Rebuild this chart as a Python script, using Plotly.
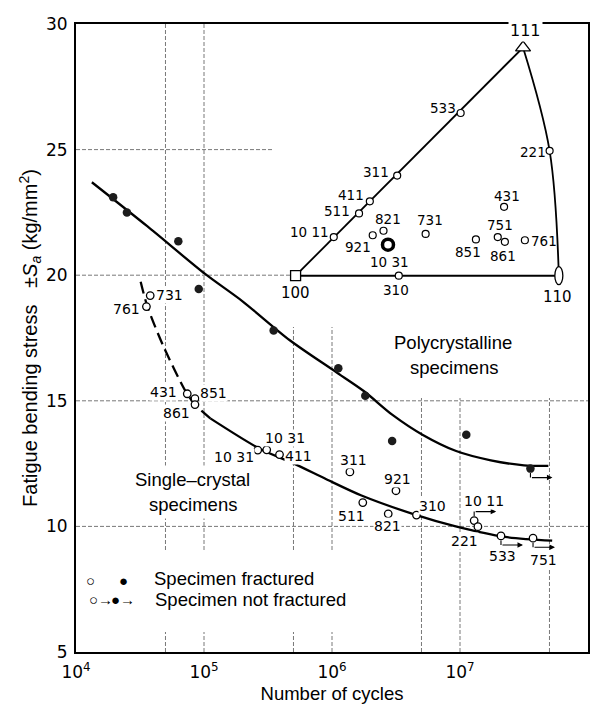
import numpy as np
import plotly.graph_objects as go

# ---------------- data ----------------
# Polycrystalline specimens (filled dots)
poly_cycles = [1.95e4, 2.5e4, 6.3e4, 9.1e4, 3.5e5, 1.12e6, 1.82e6, 2.95e6, 1.12e7, 3.55e7]
poly_stress = [23.1, 22.5, 21.35, 19.45, 17.8, 16.3, 15.2, 13.4, 13.65, 12.3]
poly_fractured = [True, True, True, True, True, True, True, True, True, False]

# Polycrystalline fitted curve
poly_curve_cycles = [1.33e4, 3.6e4, 1.02e5, 2.0e5, 4.68e5, 1.05e6, 1.78e6, 2.95e6,
                     5.13e6, 9.33e6, 1.74e7, 3.16e7, 4.9e7]
poly_curve_stress = [23.7, 21.95, 20.05, 18.96, 17.41, 16.18, 15.38, 14.45,
                     13.64, 13.0, 12.63, 12.43, 12.41]

# Single-crystal specimens (open circles), labelled by orientation
single_labels = ["761", "731", "431", "851", "861", "10 31", "10 31", "411", "311",
                 "511", "921", "821", "310", "10 11", "221", "533", "751"]
single_cycles = [3.55e4, 3.8e4, 7.4e4, 8.5e4, 8.5e4, 2.63e5, 3.09e5, 3.89e5, 1.38e6,
                 1.74e6, 3.16e6, 2.75e6, 4.57e6, 1.29e7, 1.38e7, 2.09e7, 3.72e7]
single_stress = [18.75, 19.19, 15.28, 15.09, 14.85, 13.04, 13.05, 12.86, 12.17,
                 10.95, 11.42, 10.5, 10.45, 10.23, 9.99, 9.62, 9.53]
single_fractured = [True, True, True, True, True, True, True, True, True,
                    True, True, True, True, False, True, False, False]

# Single-crystal fitted curve (dashed part, then solid part)
single_dash_cycles = [3.2e4, 3.6e4, 4.83e4, 7.29e4, 8.51e4, 1.12e5]
single_dash_stress = [19.74, 18.78, 17.16, 15.32, 14.85, 14.3]
single_solid_cycles = [1.12e5, 2.75e5, 5.0e5, 9.1e5, 1.7e6, 4.57e6, 9.1e6, 2.24e7, 5.25e7]
single_solid_stress = [14.3, 13.08, 12.51, 11.87, 11.23, 10.45, 10.01, 9.58, 9.43]

# Inset: standard stereographic triangle (coordinates relative to 100-110 edge = 1)
vertex_labels = ["100", "110", "111"]
vertex_u = [0.0, 1.0, 0.864]
vertex_v = [0.0, 0.0, 0.868]
inset_labels = ["10 11", "511", "411", "311", "533", "221", "310", "821", "921",
                "10 31", "731", "851", "751", "861", "431", "761"]
inset_u = [0.145, 0.241, 0.282, 0.386, 0.627, 0.965, 0.392, 0.334, 0.293,
           0.351, 0.494, 0.685, 0.768, 0.795, 0.792, 0.871]
inset_v = [0.147, 0.237, 0.283, 0.381, 0.619, 0.475, 0.0, 0.171, 0.154,
           0.118, 0.159, 0.138, 0.147, 0.129, 0.262, 0.135]
inset_highlight = "10 31"
arc_through = "221"

x_tick_values = [1e4, 5e4, 1e5, 5e5, 1e6, 5e6, 1e7, 5e7, 1e8]
x_tick_text = ["10<sup>4</sup>", "", "10<sup>5</sup>", "", "10<sup>6</sup>", "",
               "10<sup>7</sup>", "", "10<sup>8</sup>"]
y_tick_values = [5, 10, 15, 20, 25, 30]

# ---------------- styles / label placement (pixels) ----------------
FONT = "Liberation Sans"
NUMFONT = "DejaVu Sans"
single_label_offsets = [(-20, 2), (19, -1), (-24, -2), (19, -6), (-18, 8), (-24, 7),
                        (18, -12), (19, 1), (4, -12), (-11, 13), (2, -12), (-1, 12),
                        (16, -9), (10, -20), (-13, 14), (2, 20), (10, 22)]
inset_label_offsets = [(-24, -5), (-22, -2), (-19, -6), (-21, -4), (-18, -5), (-17, 1),
                       (-3, 14), (4, -12), (-15, 12), (2, 17), (4, -14), (-8, 13),
                       (2, -12), (-2, 14), (3, -11), (19, 1)]
vertex_label_offsets = [(0, 17), (-1, 21), (2, -17)]
arrow_dir_poly = 1
arrow_dir_single = {"10 11": -1, "533": 1, "751": 1}

# plot frame in pixels
L, R, T, B = 76, 12, 24, 55
W, H = 600, 707
PW, PH = W - L - R, H - T - B


def dom_x(px):
    return (px - L) / PW


def dom_y(py):
    return (H - B - py) / PH


fig = go.Figure()

# ---- curves ----
fig.add_trace(go.Scatter(x=poly_curve_cycles, y=poly_curve_stress, mode="lines",
                         line=dict(color="black", width=2.3, shape="spline", smoothing=0.8),
                         hoverinfo="skip", showlegend=False))
fig.add_trace(go.Scatter(x=single_dash_cycles, y=single_dash_stress, mode="lines",
                         line=dict(color="black", width=2.3, dash="12px,6px",
                                   shape="spline", smoothing=0.8),
                         hoverinfo="skip", showlegend=False))
fig.add_trace(go.Scatter(x=single_solid_cycles, y=single_solid_stress, mode="lines",
                         line=dict(color="black", width=2.3, shape="spline", smoothing=0.8),
                         hoverinfo="skip", showlegend=False))

# ---- markers ----
fig.add_trace(go.Scatter(x=poly_cycles, y=poly_stress, mode="markers",
                         marker=dict(symbol="circle", size=8.5, color="#1c1c1c",
                                     line=dict(width=0)),
                         showlegend=False))
fig.add_trace(go.Scatter(x=single_cycles, y=single_stress, mode="markers",
                         marker=dict(symbol="circle", size=7.5, color="white",
                                     line=dict(color="black", width=1.3)),
                         showlegend=False))

annotations = []


def not_fractured_arrow(xv, yv, direction):
    lx = float(np.log10(xv))
    annotations.append(dict(x=lx, y=yv, xref="x", yref="y", text="", showarrow=True,
                            arrowhead=0, arrowwidth=1.1, arrowcolor="black",
                            ax=0, ay=-6 * direction, xshift=0, yshift=-9 * direction,
                            standoff=0, startstandoff=0))
    annotations.append(dict(x=lx, y=yv, xref="x", yref="y", text="", showarrow=True,
                            arrowhead=2, arrowsize=1.0, arrowwidth=1.1, arrowcolor="black",
                            ax=-22, ay=0, xshift=22, yshift=-9 * direction,
                            standoff=0, startstandoff=0))


for xv, yv, fr in zip(poly_cycles, poly_stress, poly_fractured):
    if not fr:
        not_fractured_arrow(xv, yv, arrow_dir_poly)
for lab, xv, yv, fr in zip(single_labels, single_cycles, single_stress, single_fractured):
    if not fr:
        not_fractured_arrow(xv, yv, arrow_dir_single.get(lab, 1))

for lab, xv, yv, (dx, dy) in zip(single_labels, single_cycles, single_stress,
                                 single_label_offsets):
    annotations.append(dict(x=float(np.log10(xv)), y=yv, xref="x", yref="y", text=lab,
                            showarrow=False, xshift=dx, yshift=-dy, xanchor="center",
                            yanchor="middle", bgcolor="white", borderpad=0,
                            font=dict(family=NUMFONT, size=14, color="black")))

curve_texts = [("Polycrystalline", 6.948, 17.34), ("specimens", 6.953, 16.31),
               ("Single\u2013crystal", 4.912, 11.86), ("specimens", 4.916, 10.86)]
for txt, lx, ly in curve_texts:
    annotations.append(dict(x=lx, y=ly, xref="x", yref="y", text=txt, showarrow=False,
                            xanchor="center", yanchor="middle", bgcolor="white",
                            borderpad=3, font=dict(family=FONT, size=18.5, color="black")))

legend_items = [("\u25cb", 4.111, 7.86, "center", 15), ("\u25cf", 4.373, 7.86, "center", 15),
                ("\u25cb\u2192", 4.088, 7.1, "left", 15), ("\u25cf\u2192", 4.26, 7.1, "left", 15),
                ("Specimen fractured", 4.595, 7.91, "left", 18.5),
                ("Specimen not fractured", 4.60, 7.11, "left", 18.5)]
for txt, lx, ly, anc, fs in legend_items:
    annotations.append(dict(x=lx, y=ly, xref="x", yref="y", text=txt, showarrow=False,
                            xanchor=anc, yanchor="middle",
                            font=dict(family=FONT, size=fs, color="black")))

# ---- inset stereographic triangle ----
vu = dict(zip(vertex_labels, vertex_u))
vv = dict(zip(vertex_labels, vertex_v))
iu = dict(zip(inset_labels, inset_u))
iv = dict(zip(inset_labels, inset_v))

fig.add_trace(go.Scatter(x=[vu["100"], vu["111"]], y=[vv["100"], vv["111"]], mode="lines",
                         line=dict(color="black", width=1.8), xaxis="x2", yaxis="y2",
                         hoverinfo="skip", showlegend=False))
fig.add_trace(go.Scatter(x=[vu["100"], vu["110"]], y=[vv["100"], vv["110"]], mode="lines",
                         line=dict(color="black", width=2.0), xaxis="x2", yaxis="y2",
                         hoverinfo="skip", showlegend=False))
fig.add_trace(go.Scatter(x=[vu["111"], iu[arc_through], vu["110"]],
                         y=[vv["111"], iv[arc_through], vv["110"]], mode="lines",
                         line=dict(color="black", width=1.8, shape="spline", smoothing=1.0),
                         xaxis="x2", yaxis="y2", hoverinfo="skip", showlegend=False))

plain = [lab != inset_highlight for lab in inset_labels]
fig.add_trace(go.Scatter(x=[u for u, p in zip(inset_u, plain) if p],
                         y=[v for v, p in zip(inset_v, plain) if p], mode="markers",
                         marker=dict(symbol="circle", size=7, color="white",
                                     line=dict(color="black", width=1.2)),
                         xaxis="x2", yaxis="y2", showlegend=False))
fig.add_trace(go.Scatter(x=[iu[inset_highlight]], y=[iv[inset_highlight]], mode="markers",
                         marker=dict(symbol="circle", size=11, color="white",
                                     line=dict(color="black", width=3.5)),
                         xaxis="x2", yaxis="y2", showlegend=False))
fig.add_trace(go.Scatter(x=[vu["100"]], y=[vv["100"]], mode="markers",
                         marker=dict(symbol="square", size=10, color="white",
                                     line=dict(color="black", width=1.3)),
                         xaxis="x2", yaxis="y2", showlegend=False))
fig.add_trace(go.Scatter(x=[vu["111"]], y=[vv["111"]], mode="markers",
                         marker=dict(symbol="triangle-up", size=13, color="white",
                                     line=dict(color="black", width=1.3)),
                         xaxis="x2", yaxis="y2", showlegend=False))

for lab, u, v, (dx, dy) in zip(inset_labels, inset_u, inset_v, inset_label_offsets):
    annotations.append(dict(x=u, y=v, xref="x2", yref="y2", text=lab, showarrow=False,
                            xshift=dx, yshift=-dy, xanchor="center", yanchor="middle",
                            font=dict(family=NUMFONT, size=13.5, color="black")))
for lab, (dx, dy) in zip(vertex_labels, vertex_label_offsets):
    annotations.append(dict(x=vu[lab], y=vv[lab], xref="x2", yref="y2", text=lab,
                            showarrow=False, xshift=dx, yshift=-dy, xanchor="center",
                            yanchor="middle", bgcolor="white" if lab == "111" else None,
                            font=dict(family=NUMFONT, size=16 if lab == "111" else 15,
                                      color="black")))

# ---- grid drawn as shapes so that parts of it can be blanked, like the print ----
shapes = []
grid_line = dict(color="#555555", width=0.8, dash="4px,2px")
for xv in x_tick_values[1:-1]:
    shapes.append(dict(type="line", xref="x", yref="y domain", x0=xv, x1=xv, y0=0, y1=1,
                       line=grid_line, layer="below"))
for yv in y_tick_values[1:-1]:
    shapes.append(dict(type="line", xref="x domain", yref="y", x0=0, x1=1, y0=yv, y1=yv,
                       line=grid_line, layer="below"))
# white areas where the printed grid is interrupted (inset, curve name, legend)
for x0, x1, y0, y1 in [(273, 588, 24, 262), (290, 588, 262, 327), (400, 588, 327, 398),
                       (78, 345, 550, 632)]:
    shapes.append(dict(type="rect", xref="x domain", yref="y domain",
                       x0=dom_x(x0), x1=dom_x(x1), y0=dom_y(y1), y1=dom_y(y0),
                       line=dict(width=0), fillcolor="white", layer="below"))
# 110 pole drawn as a small upright ellipse
shapes.append(dict(type="circle", xref="x2", yref="y2", xsizemode="pixel", ysizemode="pixel",
                   xanchor=vu["110"], yanchor=vv["110"], x0=-4, x1=4, y0=-9, y1=9,
                   line=dict(color="black", width=1.3), fillcolor="white", layer="above"))

NB = "\u00a0"
y_title = (NB * 4 + "Fatigue bending stress" + NB * 3 +
           "\u00b1<i>S</i><sub><i>a</i></sub> (kg/mm<sup>2</sup>)")

fig.update_layout(
    width=W, height=H, autosize=False,
    margin=dict(l=L, r=R, t=T, b=B, pad=0),
    paper_bgcolor="white", plot_bgcolor="rgba(0,0,0,0)",
    font=dict(family=FONT, color="black"),
    showlegend=False,
    xaxis=dict(type="log", range=[4, 8], tickvals=x_tick_values, ticktext=x_tick_text,
               ticks="", showline=True, linecolor="black", linewidth=1.8, mirror=True,
               zeroline=False, showgrid=False, ticklabelstandoff=4, automargin=False,
               tickfont=dict(family=NUMFONT, size=17),
               title=dict(text="Number of cycles", font=dict(size=18.5), standoff=6),
               fixedrange=True),
    yaxis=dict(range=[5, 30], tickvals=y_tick_values, ticks="", showline=True,
               linecolor="black", linewidth=1.8, mirror=True, zeroline=False,
               showgrid=False, ticklabelstandoff=3, automargin=False,
               tickfont=dict(family=NUMFONT, size=17),
               title=dict(text=y_title, font=dict(size=20), standoff=3),
               fixedrange=True),
    xaxis2=dict(domain=[dom_x(264), dom_x(572)], range=[-0.12, 1.05], visible=False,
                anchor="y2", fixedrange=True),
    yaxis2=dict(domain=[dom_y(302), dom_y(26)], range=[-0.1, 0.95], visible=False,
                anchor="x2", fixedrange=True),
    annotations=annotations,
    shapes=shapes,
)

fig.write_html("out.html")
